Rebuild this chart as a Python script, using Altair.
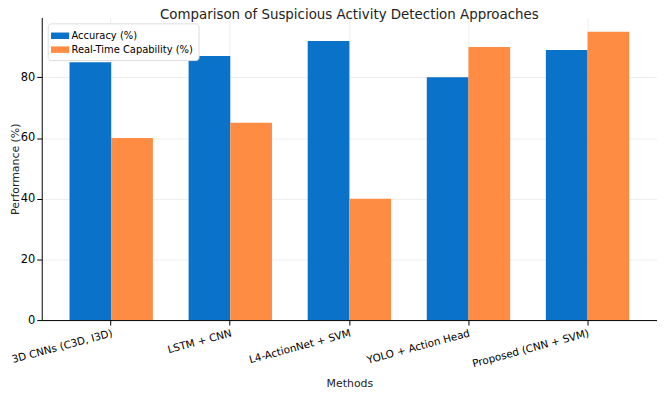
import altair as alt
import pandas as pd

methods = ["3D CNNs (C3D, I3D)", "LSTM + CNN", "L4-ActionNet + SVM", "YOLO + Action Head", "Proposed (CNN + SVM)"]
accuracy = [85, 87, 92, 80, 89]
realtime = [60, 65, 40, 90, 95]
series = ["Accuracy (%)", "Real-Time Capability (%)"]
colors = ["#0a72c8", "#ff8c42"]

rows = []
for m, a, r in zip(methods, accuracy, realtime):
    rows.append({"Method": m, "Metric": series[0], "Value": a})
    rows.append({"Method": m, "Metric": series[1], "Value": r})
df = pd.DataFrame(rows)

font = "DejaVu Sans"

chart = alt.Chart(df).mark_bar().encode(
    x=alt.X("Method:N", sort=methods, title="Methods",
            scale=alt.Scale(paddingInner=0.3, paddingOuter=0.2333),
            axis=alt.Axis(labelAngle=-15, labelAlign="right", labelBaseline="top",
                          labelFontSize=10.5, titleFontSize=11, titleFontWeight="normal",
                          domainColor="black", tickColor="black", labelColor="black",
                          titleColor="#222222",
                          grid=True, gridColor="#eeeeee", bandPosition=0.5,
                          labelPadding=3, titlePadding=8, labelOverlap=False)),
    xOffset=alt.XOffset("Metric:N", sort=series, scale=alt.Scale(paddingInner=0, paddingOuter=0)),
    y=alt.Y("Value:Q", title="Performance (%)",
            scale=alt.Scale(domain=[0, 99.75], nice=False),
            axis=alt.Axis(values=[0, 20, 40, 60, 80], labelFontSize=11.5, titleFontSize=11,
                          titleFontWeight="normal", domainColor="black", tickColor="black",
                          labelColor="black", titleColor="#222222", labelPadding=2,
                          gridColor="#eeeeee", titlePadding=0)),
    color=alt.Color("Metric:N", sort=series, title=None,
                    scale=alt.Scale(domain=series, range=colors),
                    legend=alt.Legend(orient="none", legendX=6, legendY=6,
                                      symbolType="M-1.4,-0.5H1.4V0.5H-1.4Z", symbolSize=170,
                                      labelFontSize=10, fillColor="white", strokeColor="#dddddd",
                                      padding=5, cornerRadius=3, rowPadding=1)),
).properties(
    width=620, height=305,
    title=alt.Title("Comparison of Suspicious Activity Detection Approaches",
                    fontSize=13.5, fontWeight="normal", color="#222222", offset=-4),
    autosize=alt.AutoSizeParams(type="none"),
    padding={"left": 34, "top": 8, "right": 0, "bottom": 72},
).configure(font=font).configure_view(stroke=None)

chart.save("out.html", embed_options={"renderer": "svg", "actions": False})
